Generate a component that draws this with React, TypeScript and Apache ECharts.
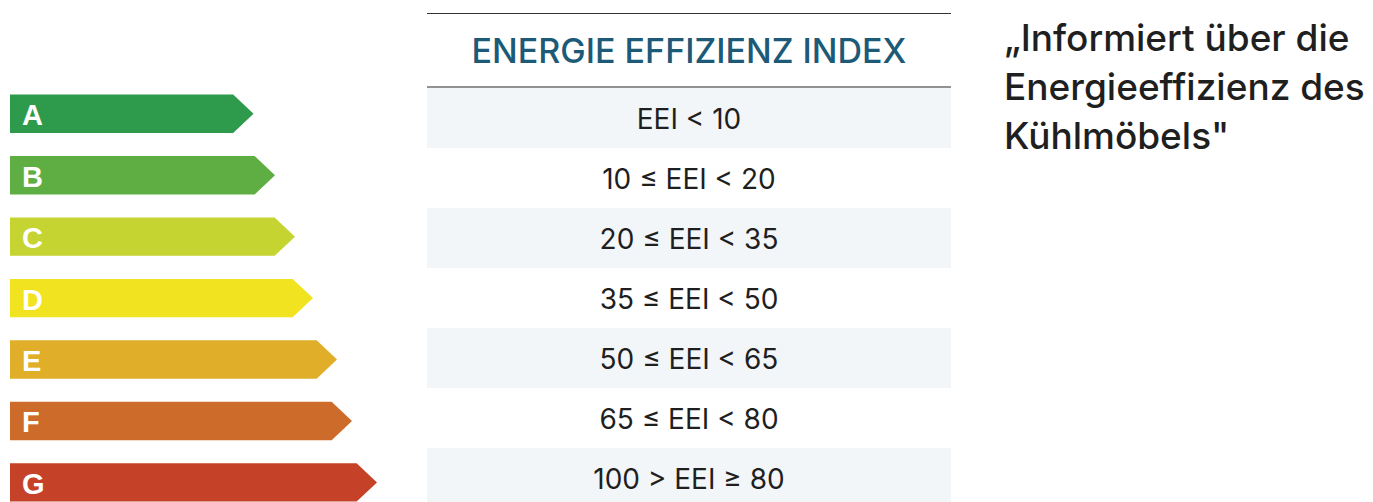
import React, { useEffect, useRef } from "react";
import * as echarts from "echarts";

const grades = ["A", "B", "C", "D", "E", "F", "G"];
const arrowLengths = [243.5, 265, 285, 303, 327, 342, 367];
const arrowColors = ["#2e9a4c", "#5fae44", "#c5d430", "#f1e31f", "#e0ae28", "#cd6b2a", "#c54228"];
const eeiRanges = [
  "EEI < 10",
  "10 ≤ EEI < 20",
  "20 ≤ EEI < 35",
  "35 ≤ EEI < 50",
  "50 ≤ EEI < 65",
  "65 ≤ EEI < 80",
  "100 > EEI ≥ 80",
];
const headerText = "ENERGIE EFFIZIENZ INDEX";
const noteLines = ["„Informiert über die", "Energieeffizienz des", "Kühlmöbels\""];

export default function App() {
  const ref = useRef<HTMLDivElement>(null);
  useEffect(() => {
    document.body.style.margin = "0";
    document.body.style.overflow = "hidden";
    document.documentElement.style.overflow = "hidden";
    const chart = echarts.init(ref.current!, null, { renderer: "svg" });
    const option: any = {
      animation: false,
      grid: [
        { left: 10, top: 83.1, width: 400, height: 430 },
        { left: 427, top: 88, width: 524, height: 420 },
      ],
      xAxis: [
        { gridIndex: 0, type: "value", min: 0, max: 400, show: false },
        { gridIndex: 1, type: "value", min: 0, max: 1, show: false },
      ],
      yAxis: [
        { gridIndex: 0, type: "category", data: grades, inverse: true, show: false },
        { gridIndex: 1, type: "category", data: eeiRanges, inverse: true, show: false },
      ],
      series: [
        {
          type: "custom",
          xAxisIndex: 0,
          yAxisIndex: 0,
          clip: false,
          data: grades.map((g, i) => [arrowLengths[i], i]),
          renderItem: (params: any, api: any) => {
            const len = api.value(0);
            const idx = api.value(1);
            const p0 = api.coord([0, idx]);
            const p1 = api.coord([len, idx]);
            const band = api.size([0, 1])[1];
            const h = band * 0.625;
            const cy = p0[1];
            const tip = h * 0.53;
            return {
              type: "group",
              children: [
                {
                  type: "polygon",
                  shape: {
                    points: [
                      [p0[0], cy - h / 2],
                      [p1[0] - tip, cy - h / 2],
                      [p1[0], cy],
                      [p1[0] - tip, cy + h / 2],
                      [p0[0], cy + h / 2],
                    ],
                  },
                  style: { fill: arrowColors[params.dataIndex] },
                },
                {
                  type: "text",
                  x: p0[0] + 12,
                  y: cy + 1.5,
                  style: {
                    text: grades[params.dataIndex],
                    fill: "#ffffff",
                    fontSize: 29,
                    fontWeight: "bold",
                    fontFamily: '"Liberation Sans", Arial, sans-serif',
                    align: "left",
                    verticalAlign: "middle",
                  },
                },
              ],
            };
          },
        },
        {
          type: "custom",
          xAxisIndex: 1,
          yAxisIndex: 1,
          clip: false,
          data: eeiRanges.map((r, i) => [0, i]),
          renderItem: (params: any, api: any) => {
            const idx = api.value(1);
            const c = api.coord([0, idx]);
            const band = api.size([0, 1])[1];
            const cs = params.coordSys;
            const children: any[] = [];
            if (idx % 2 === 0) {
              children.push({
                type: "rect",
                shape: { x: cs.x, y: c[1] - band / 2, width: cs.width, height: band },
                style: { fill: "#f3f6f9" },
              });
            }
            children.push({
              type: "text",
              x: cs.x + cs.width / 2,
              y: c[1] + 0.5,
              style: {
                text: eeiRanges[params.dataIndex],
                fill: "#1f1f1f",
                fontSize: 28,
                fontFamily: "Inter, sans-serif",
                align: "center",
                verticalAlign: "middle",
              },
            });
            return { type: "group", children };
          },
        },
      ],
      graphic: [
        {
          type: "line",
          shape: { x1: 427, y1: 13.5, x2: 951, y2: 13.5 },
          style: { stroke: "#333333", lineWidth: 1 },
        },
        {
          type: "line",
          shape: { x1: 427, y1: 87, x2: 951, y2: 87 },
          style: { stroke: "#6e6e6e", lineWidth: 1.5 },
        },
        {
          type: "text",
          x: 689,
          y: 50,
          style: {
            text: headerText,
            fill: "#1d5a77",
            fontSize: 34,
            fontWeight: 500,
            fontFamily: "Inter, sans-serif",
            align: "center",
            verticalAlign: "middle",
          },
        },
        ...noteLines.map((t, i) => ({
          type: "text",
          x: 1004,
          y: 37.5 + i * 49,
          style: {
            text: t,
            fill: "#1f1f1f",
            fontSize: 37,
            fontWeight: 500,
            fontFamily: "Inter, sans-serif",
            align: "left",
            verticalAlign: "middle",
          },
        })),
      ],
    };
    chart.setOption(option);
    return () => chart.dispose();
  }, []);
  return <div ref={ref} style={{ width: 1373, height: 530 }} />;
}
